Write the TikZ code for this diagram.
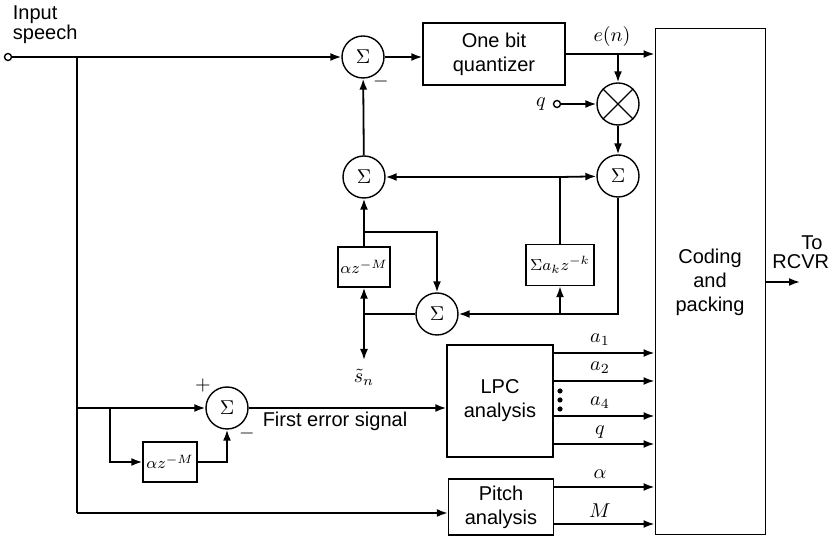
\documentclass[tikz,border=0pt]{standalone}
\usepackage{fontspec}
\setmainfont{Liberation Sans}
\usetikzlibrary{arrows.meta}
\begin{document}
\begin{tikzpicture}[x=0.5pt,y=-0.5pt,
  line width=0.9pt,
  arr/.style={-{Latex[length=5.5pt,width=4pt]}},
  sumnode/.style={circle,draw,line width=0.7pt,minimum size=21pt,inner sep=0pt,font=\fontsize{10}{11}\selectfont},
  blk/.style={rectangle,draw,line width=0.7pt,inner sep=0pt,align=center,font=\fontsize{10}{12}\selectfont},
  dblk/.style={rectangle,draw,line width=0.7pt,inner sep=0pt,align=center,font=\fontsize{8.5}{10}\selectfont},
  term/.style={circle,draw,line width=0.7pt,minimum size=3.5pt,inner sep=0pt,fill=white},
  lbl/.style={font=\fontsize{10}{12}\selectfont,align=center,inner sep=0pt},
  mlbl/.style={font=\fontsize{10}{12}\selectfont,inner sep=0pt}]
\useasboundingbox (0,0) rectangle (831,539);

% nodes
\node[term] (in) at (8,57) {};
\node[lbl,anchor=north west,align=left] (intxt) at (12,5) {Input\\[-2pt]speech};
\node[sumnode] (s1) at (363,57) {$\Sigma$};
\node[blk,minimum width=71pt,minimum height=31pt] (quant) at (494,54) {One bit\\quantizer};
\node[sumnode] (mult) at (618,104) {};
\draw[line width=0.7pt] (mult.45) -- (mult.225) (mult.135) -- (mult.315);
\node[term] (qin) at (557,104) {};
\node[mlbl] (qlbl) at (541,104) {$q$};
\node[sumnode] (s3) at (618,176) {$\Sigma$};
\node[sumnode] (s2) at (364,177) {$\Sigma$};
\node[dblk,minimum width=34pt,minimum height=20.5pt] (ak) at (560,265) {$\Sigma a_k z^{-k}$};
\node[dblk,minimum width=26pt,minimum height=20pt] (az1) at (364,267) {$\alpha z^{-M}$};
\node[sumnode] (s4) at (437,314) {$\Sigma$};
\node[sumnode] (s5) at (227,408) {$\Sigma$};
\node[dblk,minimum width=27pt,minimum height=20pt] (az2) at (170,462) {$\alpha z^{-M}$};
\node[blk,minimum width=53pt,minimum height=56pt] (lpc) at (500,401) {LPC\\analysis};
\node[blk,minimum width=52.5pt,minimum height=28pt] (pitch) at (501,507) {Pitch\\analysis};
\node[blk,minimum width=55pt,minimum height=253pt,line width=0.5pt] (coding) at (710,282) {Coding\\and\\packing};

% coordinates
\coordinate (j1) at (618,54);
\coordinate (j2) at (560,177);
\coordinate (j3) at (560,314);
\coordinate (j4) at (364,232);
\coordinate (j5) at (364,314);
\coordinate (snend) at (364,360);
\coordinate (j6) at (77,57);
\coordinate (j7) at (77,408);
\coordinate (j8) at (77,513);
\coordinate (j9) at (110,408);
\coordinate (outend) at (800,282);

% top path
\draw[arr] (in) -- (s1);
\draw[arr] (s1) -- (s1 -| quant.west);
\draw[arr] (quant.east) -- (quant.east -| coding.west);
\node[mlbl] (enlbl) at (612,37) {$e(n)$};
\draw[arr] (j1) -- (mult);
\draw[arr] (qin) -- (mult);
\draw[arr] (mult) -- (s3);
\draw[arr] (s2) -- (s1);
\node[mlbl] (m1) at (381,82) {$-$};

% feedback
\draw[arr] (j2) -- (s2);
\draw[arr] (j2) -- (s3);
\draw (j2) -- (ak.north);
\draw[arr] (s3.south) |- (s4.east);
\draw[arr] (j3) -- (ak.south);
\draw[arr] (az1) -- (s2);
\draw[arr] (j4) -| (s4.north);
\draw (s4) -- (j5);
\draw[arr] (j5) -- (az1.south);
\draw[arr] (j5) -- (snend);
\node[mlbl] (sn) at (364,377) {$\tilde{s}_n$};

% left part
\draw (in) -- (j6) -- (j8);
\draw[arr] (j8) -- (j8 -| pitch.west);
\draw[arr] (j7) -- (s5);
\node[mlbl] (plus) at (203,386) {$+$};
\draw[arr] (j9) |- (az2.west);
\draw[arr] (az2.east) -| (s5.south);
\node[mlbl] (m2) at (247,434) {$-$};
\draw[arr] (s5) -- (s5 -| lpc.west);
\node[lbl] (fes) at (335,421) {First error signal};

% LPC / pitch outputs
\foreach \yy/\nm in {353/o1, 381/o2, 416/o3, 444/o4, 487/o5, 524/o6}{
  \coordinate (\nm) at (600,\yy);
}
\draw[arr] (o1 -| lpc.east) -- (o1 -| coding.west);
\draw[arr] (o2 -| lpc.east) -- (o2 -| coding.west);
\draw[arr] (o3 -| lpc.east) -- (o3 -| coding.west);
\draw[arr] (o4 -| lpc.east) -- (o4 -| coding.west);
\draw[arr] (o5 -| pitch.east) -- (o5 -| coding.west);
\draw[arr] (o6 -| pitch.east) -- (o6 -| coding.west);
\node[mlbl] (la1) at (600,340) {$a_1$};
\node[mlbl] (la2) at (600,368) {$a_2$};
\node[mlbl] (la4) at (600,403) {$a_4$};
\node[mlbl] (lq) at (600,432) {$q$};
\node[mlbl] (lal) at (600,474) {$\alpha$};
\node[mlbl] (lM) at (600,511) {$M$};
\foreach \yy in {391,400,409}{\fill (560,\yy) circle (1.3pt);}

% output
\draw[arr] (coding.east |- outend) -- (outend);
\node[lbl] (to) at (812,243) {To};
\node[lbl,anchor=east] (rcvr) at (830,262) {RCVR};
\end{tikzpicture}
\end{document}
